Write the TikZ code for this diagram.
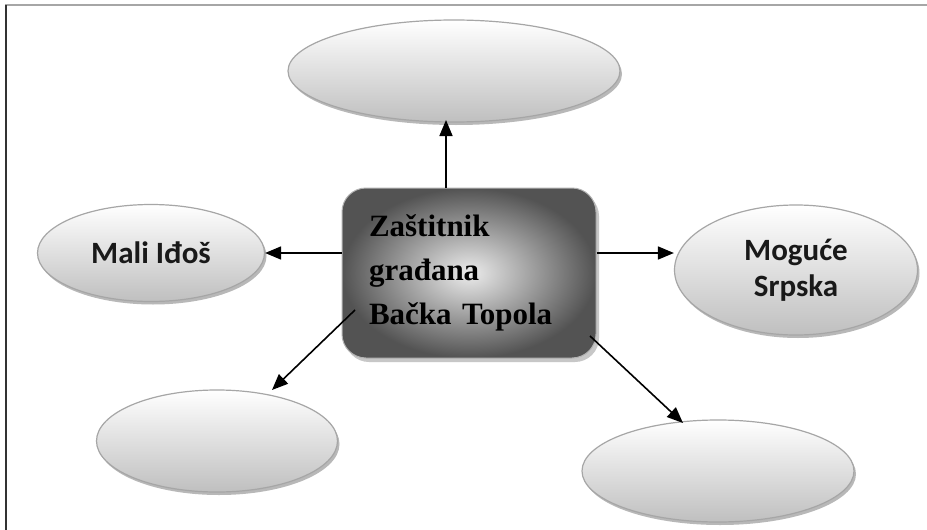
\documentclass[tikz,border=0pt]{standalone}
\usepackage{fontspec}
\setmainfont{Liberation Serif}
\newfontfamily\calfont{Carlito}
\usetikzlibrary{shapes.geometric,arrows.meta,shadows}
\begin{document}
\begin{tikzpicture}[x=1pt,y=-1pt,
  oval/.style={ellipse, draw=gray!70, line width=1.2pt, inner sep=0pt,
    top color=white, bottom color=gray!50,
    drop shadow={shadow xshift=2pt, shadow yshift=-3pt, fill=gray!65, opacity=0.85},
    font=\calfont\bfseries\fontsize{31}{36}\selectfont, align=center, text=black!90},
  hub/.style={rectangle, rounded corners=24pt, draw=gray!60, line width=1pt,
    inner color=gray!15, outer color=gray!65!black,
    drop shadow={shadow xshift=3pt, shadow yshift=-4pt, fill=gray!55, opacity=0.8},
    minimum width=254pt, minimum height=170pt, text width=200pt,
    font=\bfseries\fontsize{31}{44}\selectfont, align=left, text=black},
  conn/.style={-{Triangle[length=16pt,width=13pt]}, line width=1.6pt, black}]
\useasboundingbox (0,0) rectangle (927,530);
\fill[white] (0,0) rectangle (927,530);
% frame
\draw[gray!70, line width=2.6pt] (5,5) -- (927,5);
\draw[black!80, line width=1.6pt] (6,5) -- (6,530);
% nodes
\node[hub] (hub) at (469,273) {Zaštitnik\\građana\\Bačka Topola};
\node[oval, minimum width=332pt, minimum height=102pt] (top) at (454,71) {};
\node[oval, minimum width=227pt, minimum height=97pt] (mali) at (151,253) {Mali Iđoš};
\node[oval, minimum width=243pt, minimum height=130pt] (srp) at (796,270) {Moguće\\Srpska};
\node[oval, minimum width=241pt, minimum height=102pt] (bl) at (217,441) {};
\node[oval, minimum width=272pt, minimum height=102pt] (br) at (718,471) {};
% connectors
\coordinate (s1) at (446,188);
\coordinate (s4) at (355,310);
\coordinate (s5) at (590,336);
\coordinate (t1) at (446,120);
\coordinate (t4) at (272,390);
\coordinate (t5) at (683,423);
\draw[conn] (s1) -- (t1);
\draw[conn] (hub.west |- mali.east) -- (mali.east);
\draw[conn] (hub.east |- 0,253) -- (srp.west |- 0,253);
\draw[conn] (s4) -- (t4);
\draw[conn] (s5) -- (t5);
\end{tikzpicture}
\end{document}
